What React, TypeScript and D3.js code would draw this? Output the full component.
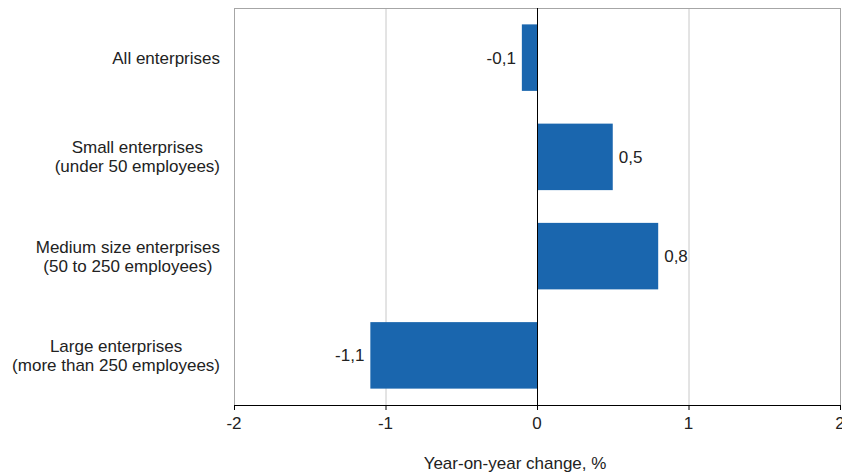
import React, { useEffect, useRef } from "react";
import * as d3 from "d3";

const categories: string[][] = [
  ["All enterprises"],
  ["Small enterprises", "(under 50 employees)"],
  ["Medium size enterprises", "(50 to 250 employees)"],
  ["Large enterprises", "(more than 250 employees)"],
];
const values: number[] = [-0.1, 0.5, 0.8, -1.1];
const xTicks: number[] = [-2, -1, 0, 1, 2];
const axisTitle = "Year-on-year change, %";

const W = 842;
const H = 475;
const FONT = "'Liberation Sans', Arial, sans-serif";
const FS = 17;
const BAR = "#1a66ae";

export default function App() {
  const ref = useRef<SVGSVGElement>(null);

  useEffect(() => {
    const svg = d3.select(ref.current);
    svg.selectAll("*").remove();

    const left = 234, right = 840, top = 8, bottom = 405;
    const x = d3.scaleLinear().domain([-2, 2]).range([left, right]);
    const y = d3
      .scaleBand<number>()
      .domain(d3.range(categories.length))
      .range([top, bottom])
      .paddingInner(0.33)
      .paddingOuter(0.165);

    svg.append("rect").attr("width", W).attr("height", H).attr("fill", "#fff");

    // gridlines
    svg
      .append("g")
      .selectAll("line")
      .data(xTicks.filter((t) => t !== 0))
      .join("line")
      .attr("x1", (d) => x(d) + 0.5)
      .attr("x2", (d) => x(d) + 0.5)
      .attr("y1", top)
      .attr("y2", bottom)
      .attr("stroke", (d) => (Math.abs(d) === 2 ? "#a6a6a6" : "#c8c8c8"))
      .attr("stroke-width", 1);

    // top border
    svg
      .append("line")
      .attr("x1", left)
      .attr("x2", right + 1)
      .attr("y1", top + 0.5)
      .attr("y2", top + 0.5)
      .attr("stroke", "#a6a6a6");

    // bars
    svg
      .append("g")
      .selectAll("rect")
      .data(values)
      .join("rect")
      .attr("x", (d) => x(Math.min(0, d)))
      .attr("width", (d) => Math.abs(x(d) - x(0)))
      .attr("y", (_, i) => y(i)!)
      .attr("height", y.bandwidth())
      .attr("fill", BAR);

    // zero line
    svg
      .append("line")
      .attr("x1", x(0) + 0.5)
      .attr("x2", x(0) + 0.5)
      .attr("y1", top)
      .attr("y2", bottom)
      .attr("stroke", "#000");

    // value labels
    svg
      .append("g")
      .selectAll("text")
      .data(values)
      .join("text")
      .attr("x", (d) => (d < 0 ? x(d) - 6 : x(d) + 6))
      .attr("y", (_, i) => y(i)! + y.bandwidth() / 2)
      .attr("dy", "0.35em")
      .attr("text-anchor", (d) => (d < 0 ? "end" : "start"))
      .attr("font-family", FONT)
      .attr("font-size", FS)
      .attr("fill", "#222")
      .text((d) => d3.format(".1f")(d).replace(".", ",").replace("−", "-"));

    // x axis
    const ax = svg.append("g");
    ax.append("line")
      .attr("x1", left)
      .attr("x2", right + 1)
      .attr("y1", bottom + 0.5)
      .attr("y2", bottom + 0.5)
      .attr("stroke", "#000");
    ax.selectAll("line.tick")
      .data(xTicks)
      .join("line")
      .attr("class", "tick")
      .attr("x1", (d) => x(d) + 0.5)
      .attr("x2", (d) => x(d) + 0.5)
      .attr("y1", bottom)
      .attr("y2", bottom + 5)
      .attr("stroke", "#000");
    ax.selectAll("text")
      .data(xTicks)
      .join("text")
      .attr("x", (d) => x(d))
      .attr("y", bottom + 18)
      .attr("dy", "0.35em")
      .attr("text-anchor", "middle")
      .attr("font-family", FONT)
      .attr("font-size", FS)
      .attr("fill", "#222")
      .text((d) => String(d));

    svg
      .append("text")
      .attr("x", 515)
      .attr("y", 463)
      .attr("dy", "0.35em")
      .attr("text-anchor", "middle")
      .attr("font-family", FONT)
      .attr("font-size", FS)
      .attr("fill", "#222")
      .text(axisTitle);

    // category labels
    const cg = svg.append("g");
    categories.forEach((lines, i) => {
      const cy = y(i)! + y.bandwidth() / 2;
      const t = cg
        .append("text")
        .attr("font-family", FONT)
        .attr("font-size", FS)
        .attr("fill", "#222")
        .attr("text-anchor", "middle");
      const spans = lines.map((l, j) =>
        t
          .append("tspan")
          .attr("y", cy + (j - (lines.length - 1) / 2) * 19)
          .attr("dy", "0.35em")
          .text(l)
      );
      const maxW = d3.max(spans, (s) => (s.node() as SVGTSpanElement).getComputedTextLength()) || 0;
      const cx = 220 - maxW / 2;
      spans.forEach((s) => s.attr("x", cx));
    });
  }, []);

  return (
    <svg
      ref={ref}
      width={W}
      height={H}
      style={{ position: "absolute", left: 0, top: 0 }}
    />
  );
}
